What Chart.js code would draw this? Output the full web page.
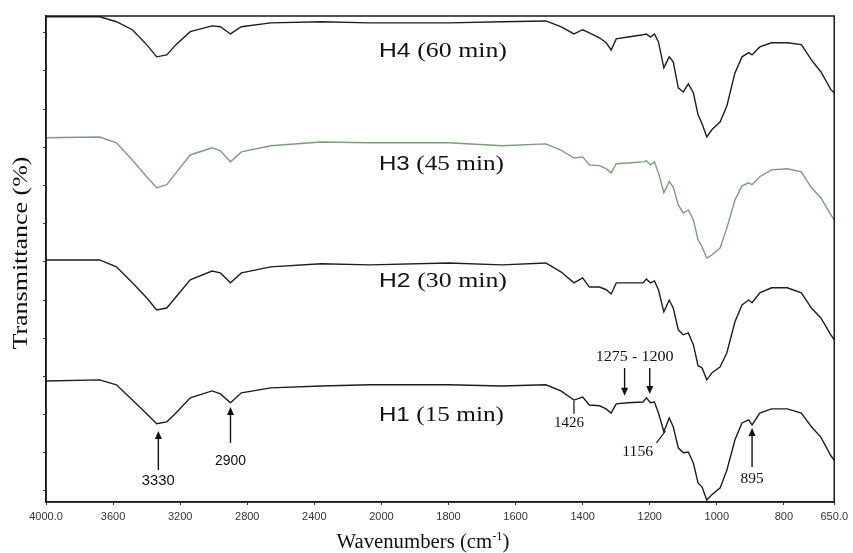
<!DOCTYPE html>
<html><head><meta charset="utf-8">
<style>html,body{margin:0;padding:0;background:#fff}#wrap{width:853px;height:553px}</style>
<script src="https://cdn.jsdelivr.net/npm/chart.js@4.4.1/dist/chart.umd.min.js"></script>
</head><body><div id="wrap"><canvas id="c" width="853" height="553"></canvas></div>
<script>
// ---- data (wavenumber grid, cm-1) ----
const wavenumbers = [4000,3680,3580,3485,3400,3340,3280,3225,3140,3010,2960,2900,2835,2660,2360,2070,1800,1640,1510,1465,1426,1400,1380,1350,1330,1315,1300,1265,1220,1210,1198,1186,1174,1158,1142,1130,1115,1100,1085,1070,1056,1044,1030,1015,990,970,946,925,905,895,872,837,790,748,718,690,660,650];
const h4 = [124.2,124.2,122.9,120.8,116.9,113.7,114.2,116.9,120.3,121.8,121.6,119.7,121.6,122.6,122.9,122.6,122.6,122.9,123.1,121.6,119.7,120.8,120.0,118.7,117.4,115.5,118.4,118.9,119.5,119.7,118.9,119.7,117.6,110.8,113.7,112.4,105.6,104.5,106.6,104.3,98.5,96.2,92.7,94.6,96.7,100.9,109.5,113.7,114.8,114.2,116.3,117.4,117.4,116.9,112.9,109.8,105.1,104.3];
const h3 = [92.5,92.7,91.2,86.7,82.3,79.4,80.2,83.3,88.0,89.9,89.1,86.2,88.8,90.4,91.4,91.2,91.2,90.4,90.9,89.3,87.2,87.5,85.4,85.2,84.4,83.3,85.7,85.9,86.2,86.5,85.4,86.2,83.3,78.1,81.0,79.6,74.9,72.8,73.6,71.0,65.8,63.9,61.0,61.8,63.7,68.9,76.2,79.9,80.7,80.2,82.3,84.1,84.4,83.6,79.4,76.8,72.3,71.0];
const h2 = [60.5,60.5,58.7,54.5,50.6,47.4,47.9,50.8,55.3,57.6,57.1,54.5,57.1,58.7,59.5,59.2,59.7,59.2,59.7,57.4,54.5,55.8,53.4,53.4,52.7,51.6,54.5,54.5,54.5,55.5,54.5,55.0,52.7,46.9,50.0,47.9,42.2,40.9,41.4,38.3,32.8,32.2,29.1,30.9,32.5,36.2,44.3,48.7,50.0,49.3,51.9,53.2,53.2,51.9,47.9,45.3,40.9,39.6];
const h1 = [28.8,29.1,27.8,23.8,20.2,17.6,18.1,20.4,24.4,26.2,25.4,23.1,25.7,27.0,27.5,27.8,27.8,27.5,27.8,26.2,23.8,24.6,22.5,22.3,21.5,20.4,22.8,23.1,23.3,24.4,23.1,23.3,20.4,15.5,19.1,16.8,11.3,10.0,10.2,7.3,2.1,1.0,-2.4,-1.0,0.8,5.5,13.4,17.8,18.6,17.3,20.4,21.5,21.5,20.4,16.8,14.1,9.2,8.1];

const seriesNames = ['H4','H3','H2','H1'];
const seriesTimes = ['(60 min)','(45 min)','(30 min)','(15 min)'];
const seriesColors = ['#1e1e1e','#7a9f78','#1e1e1e','#1e1e1e'];
const seriesLabelY = [113.7, 84.1, 53.4, 18.3];

const xTickValues = [4000,3600,3200,2800,2400,2000,1800,1600,1400,1200,1000,800,650];
const xTickLabels = ['4000.0','3600','3200','2800','2400','2000','1800','1600','1400','1200','1000','800','650.0'];
const yTickValues = [0,10,20,30,40,50,60,70,80,90,100,110,120];

// peak annotations (H1)
const arrowWn   = [3330, 2900, 895, 1275, 1200];
const arrowTail = [5.5, 12.6, 6.3, 32.2, 32.2];
const arrowTip  = [15.7, 22.0, 16.5, 24.9, 25.4];
const peakText   = ['3330','2900','895','1275 - 1200','1426','1156'];
const peakTextWn = [3330, 2900, 895, 1245, 1441, 1236];
const peakTextY  = [2.6, 7.9, 3.1, 35.1, 17.8, 10.0];

// ---- split wavenumber scale (4000-2000 compressed by 2) ----
const BREAK = 2000;
class SplitScale extends Chart.LinearScale {
  _pos(v){ return v <= BREAK ? v : BREAK + (v - BREAK) / 2; }
  getPixelForValue(value){
    if (value === null || isNaN(value)) return NaN;
    const a = this._pos(this.min), b = this._pos(this.max);
    return this.getPixelForDecimal((this._pos(value) - a) / (b - a));
  }
  getValueForPixel(pixel){
    const d = this.getDecimalForPixel(pixel);
    const a = this._pos(this.min), b = this._pos(this.max);
    const p = a + d * (b - a);
    return p <= BREAK ? p : BREAK + (p - BREAK) * 2;
  }
}
SplitScale.id = 'split';
SplitScale.defaults = {};
Chart.register(SplitScale);

const SERIF = '"Liberation Serif", "Times New Roman", serif';
const SANS = '"Liberation Sans", Arial, sans-serif';

function drawParts(ctx, parts, x, y, width, align, rot){
  let total = 0;
  parts.forEach(p => { ctx.font = p.font; p.w = ctx.measureText(p.t).width; total += p.w; });
  const k = width / total;
  ctx.save();
  ctx.translate(x, y);
  if (rot) ctx.rotate(rot);
  ctx.scale(k, 1);
  let cx = align === 'center' ? -total / 2 : 0;
  parts.forEach(p => {
    ctx.font = p.font; ctx.textAlign = 'left';
    ctx.textBaseline = p.base || 'alphabetic';
    ctx.fillText(p.t, cx, p.dy || 0);
    cx += p.w;
  });
  ctx.restore();
}

const overlay = {
  id: 'overlay',
  afterDraw(chart){
    const {ctx, chartArea: a, scales: {x, y}} = chart;
    ctx.save();
    ctx.strokeStyle = '#1a1a1a'; ctx.lineWidth = 1.5;
    ctx.strokeRect(a.left, a.top, a.right - a.left, a.bottom - a.top);
    ctx.fillStyle = '#111';
    // axis titles
    drawParts(ctx, [
      {t:'Wavenumbers (cm', font:'20px ' + SERIF},
      {t:'-1', font:'12px ' + SERIF, dy:-8},
      {t:')', font:'20px ' + SERIF}
    ], 423, 548, 173, 'center');
    drawParts(ctx, [{t:'Transmittance (%)', font:'20px ' + SERIF}], 27, 253, 193, 'center', -Math.PI/2);
    // series labels
    seriesNames.forEach((n, i) => {
      const lx = x.getPixelForValue(2015), ly = y.getPixelForValue(seriesLabelY[i]);
      drawParts(ctx, [
        {t:n + ' ', font:'21px ' + SANS},
        {t:seriesTimes[i], font:'22px ' + SERIF}
      ], lx, ly, i % 2 ? 125 : 128, 'left');
    });
    // arrows
    ctx.strokeStyle = '#111'; ctx.lineWidth = 1.4;
    arrowWn.forEach((w, i) => {
      const px = x.getPixelForValue(w);
      const y1 = y.getPixelForValue(arrowTail[i]), y2 = y.getPixelForValue(arrowTip[i]);
      const dir = y2 < y1 ? -1 : 1;
      ctx.beginPath(); ctx.moveTo(px, y1); ctx.lineTo(px, y2 - dir * 6); ctx.stroke();
      ctx.beginPath(); ctx.moveTo(px, y2); ctx.lineTo(px - 3.5, y2 - dir * 8); ctx.lineTo(px + 3.5, y2 - dir * 8); ctx.closePath(); ctx.fill();
    });
    // leader lines (1426, 1156)
    ctx.lineWidth = 1.2;
    ctx.beginPath();
    ctx.moveTo(x.getPixelForValue(1426), y.getPixelForValue(23.6));
    ctx.lineTo(x.getPixelForValue(1426), y.getPixelForValue(20.2));
    ctx.moveTo(x.getPixelForValue(1180), y.getPixelForValue(12.6));
    ctx.lineTo(x.getPixelForValue(1153), y.getPixelForValue(15.7));
    ctx.stroke();
    // peak texts
    const widths = [33, 31, 23, 78, 30, 31];
    peakText.forEach((t, i) => {
      const f = i < 2 ? '14px ' + SANS : '14px ' + SERIF;
      drawParts(ctx, [{t, font:f, base:'middle'}], x.getPixelForValue(peakTextWn[i]), y.getPixelForValue(peakTextY[i]), widths[i], 'center');
    });
    ctx.restore();
  }
};

const series = [h4, h3, h2, h1];
new Chart(document.getElementById('c'), {
  type: 'line',
  data: {
    datasets: series.map((s, i) => ({
      label: seriesNames[i],
      data: wavenumbers.map((w, j) => ({x: w, y: s[j]})),
      borderColor: seriesColors[i],
      borderWidth: 1.4,
      pointRadius: 0,
      tension: 0,
      fill: false
    }))
  },
  options: {
    responsive: false,
    animation: false,
    devicePixelRatio: 1,
    layout: {padding: {left: 0, right: 14, top: 16, bottom: 0}},
    plugins: {legend: {display: false}, tooltip: {enabled: false}},
    scales: {
      x: {
        type: 'split', reverse: true, min: 650, max: 4000,
        afterBuildTicks: s => { s.ticks = xTickValues.map(v => ({value: v})); },
        afterFit: s => { s.height = 51; },
        ticks: {autoSkip: false, maxRotation: 0, padding: 5, color: '#333',
          font: {family: 'Liberation Sans', size: 11},
          callback: (v) => xTickLabels[xTickValues.indexOf(v)] },
        grid: {drawOnChartArea: false, drawTicks: true, tickLength: 3, color: '#333'},
        border: {display: true, color: '#1a1a1a', width: 1.5}
      },
      y: {
        type: 'linear', min: -2.9, max: 124.4,
        afterBuildTicks: s => { s.ticks = yTickValues.map(v => ({value: v})); },
        afterFit: s => { s.width = 46; },
        ticks: {display: false},
        grid: {drawOnChartArea: false, drawTicks: true, tickLength: 3, color: '#333'},
        border: {display: true, color: '#1a1a1a', width: 1.5}
      }
    }
  },
  plugins: [overlay]
});
</script>
</body></html>
